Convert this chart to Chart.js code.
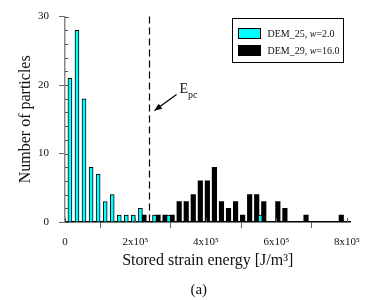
<!DOCTYPE html>
<html>
<head>
<meta charset="utf-8">
<script src="https://cdn.jsdelivr.net/npm/chart.js@4.4.0/dist/chart.umd.min.js"></script>
<style>
  body { margin: 0; background: #fff; }
  #graph { display: block; }
</style>
</head>
<body>
<canvas id="graph" width="368" height="300"></canvas>
<script>
// Centros de cada barra [J/m3] y numero de particulas
const dem25Energia = [14000, 34000, 54000, 74000, 94000, 114000, 134000, 154000, 174000, 194000, 214000, 254000, 294000, 554000];
const dem25Particulas = [21, 28, 18, 8, 7, 3, 4, 1, 1, 1, 2, 1, 1, 1];

const dem29Energia = [224000, 264000, 284000, 304000, 324000, 344000, 364000, 384000, 404000, 424000, 444000, 464000, 484000, 504000, 524000, 544000, 564000, 604000, 624000, 684000, 784000];
const dem29Particulas = [1, 1, 1, 1, 3, 3, 4, 6, 6, 8, 3, 2, 3, 1, 4, 4, 3, 3, 2, 1, 1];

const nombresSeries = ['DEM_25', 'DEM_29'];
const valoresW = ['2.0', '16.0'];
const coloresSeries = ['#00ffff', '#000000'];

const ticksX = [0, 200000, 400000, 600000, 800000];
const etiquetasX = ['0', '2x10\u2075', '4x10\u2075', '6x10\u2075', '8x10\u2075'];
const ticksY = [0, 10, 20, 30];

const energiaEpc = 238000;
const serif = "'Liberation Serif', 'Times New Roman', serif";

const linea = (ctx, x1, y1, x2, y2) => {
    ctx.beginPath();
    ctx.moveTo(x1, y1);
    ctx.lineTo(x2, y2);
    ctx.stroke();
};

// Marcas hacia adentro de los ejes
const marcasEjes = {
    id: 'marcasEjes',
    afterDraw(chart) {
        const {ctx, chartArea, scales: {x, y}} = chart;
        ctx.save();
        ctx.strokeStyle = '#555';
        ctx.lineWidth = 1;
        ticksX.forEach((v) => {
            const px = Math.round(x.getPixelForValue(v)) + 0.5;
            linea(ctx, px, chartArea.bottom, px, chartArea.bottom - 4);
        });
        ticksY.forEach((v) => {
            const py = Math.round(y.getPixelForValue(v)) + 0.5;
            linea(ctx, chartArea.left, py, chartArea.left + 4, py);
        });
        for (let v = 2; v < 30; v += 2) {
            if (v % 10 === 0) continue;
            const py = Math.round(y.getPixelForValue(v)) + 0.5;
            linea(ctx, chartArea.left, py, chartArea.left + 3, py);
        }
        ctx.restore();
    }
};

// Linea de Epc con flecha y texto
const lineaEpc = {
    id: 'lineaEpc',
    afterDatasetsDraw(chart) {
        const {ctx, chartArea, scales: {x}} = chart;
        const px = Math.round(x.getPixelForValue(energiaEpc)) + 0.5;
        ctx.save();
        ctx.strokeStyle = '#000';
        ctx.lineWidth = 1.2;
        ctx.setLineDash([7, 4]);
        linea(ctx, px, chartArea.top, px, chartArea.bottom);
        ctx.setLineDash([]);

        const punta = {x: px + 5, y: chartArea.top + 94};
        const cola = {x: px + 27, y: chartArea.top + 78};
        linea(ctx, cola.x, cola.y, punta.x, punta.y);
        const ang = Math.atan2(punta.y - cola.y, punta.x - cola.x);
        ctx.fillStyle = '#000';
        ctx.beginPath();
        ctx.moveTo(punta.x, punta.y);
        ctx.lineTo(punta.x - 8 * Math.cos(ang - 0.4), punta.y - 8 * Math.sin(ang - 0.4));
        ctx.lineTo(punta.x - 8 * Math.cos(ang + 0.4), punta.y - 8 * Math.sin(ang + 0.4));
        ctx.closePath();
        ctx.fill();

        ctx.fillStyle = '#111';
        ctx.textBaseline = 'alphabetic';
        ctx.font = `14px ${serif}`;
        ctx.fillText('E', px + 30, chartArea.top + 76);
        const anchoE = ctx.measureText('E').width;
        ctx.font = `10px ${serif}`;
        ctx.fillText('pc', px + 30 + anchoE, chartArea.top + 81);
        ctx.restore();
    }
};

// Leyenda en recuadro, arriba a la derecha
const leyendaCaja = {
    id: 'leyendaCaja',
    afterDraw(chart) {
        const {ctx, chartArea} = chart;
        const ancho = 111, alto = 44;
        const x0 = Math.round(chartArea.right - 7 - ancho) + 0.5;
        const y0 = Math.round(chartArea.top + 1) + 0.5;
        ctx.save();
        ctx.fillStyle = '#fff';
        ctx.fillRect(x0, y0, ancho, alto);
        ctx.strokeStyle = '#000';
        ctx.lineWidth = 1;
        ctx.strokeRect(x0, y0, ancho, alto);
        nombresSeries.forEach((nombre, i) => {
            const ys = y0 + 10 + i * 17;
            ctx.fillStyle = coloresSeries[i];
            ctx.fillRect(x0 + 6, ys, 22, 10);
            ctx.strokeRect(x0 + 6, ys, 22, 10);
            let tx = x0 + 35;
            const ty = y0 + 18 + i * 17;
            ctx.fillStyle = '#111';
            ctx.textBaseline = 'alphabetic';
            const partes = [[`${nombre}, `, ''], ['w', 'italic '], [`=${valoresW[i]}`, '']];
            partes.forEach(([texto, estilo]) => {
                ctx.font = `${estilo}10px ${serif}`;
                ctx.fillText(texto, tx, ty);
                tx += ctx.measureText(texto).width;
            });
        });
        ctx.font = `15px ${serif}`;
        ctx.textAlign = 'center';
        ctx.fillText('(a)', (chartArea.left + chartArea.right) / 2 - 9, 294);
        ctx.restore();
    }
};

const data = {
    datasets: [
        {
            label: `${nombresSeries[0]}, w=${valoresW[0]}`,
            data: dem25Energia.map((e, i) => ({x: e, y: dem25Particulas[i]})),
            backgroundColor: coloresSeries[0],
            borderColor: '#000',
            borderWidth: 1,
            barThickness: 4,
            grouped: false,
        },
        {
            label: `${nombresSeries[1]}, w=${valoresW[1]}`,
            data: dem29Energia.map((e, i) => ({x: e, y: dem29Particulas[i]})),
            backgroundColor: coloresSeries[1],
            borderWidth: 0,
            barThickness: 4.5,
            grouped: false,
        }
    ]
};

const config = {
    type: 'bar',
    data: data,
    options: {
        responsive: false,
        animation: false,
        layout: {padding: {top: 7, right: 13, bottom: 0, left: 0}},
        plugins: {legend: {display: false}, tooltip: {enabled: false}},
        scales: {
            x: {
                type: 'linear',
                min: 0,
                max: 810000,
                offset: false,
                afterBuildTicks: (eje) => { eje.ticks = ticksX.map((v) => ({value: v})); },
                afterFit: (eje) => { eje.height = 78; },
                ticks: {
                    callback: (v) => etiquetasX[ticksX.indexOf(v)],
                    color: '#111',
                    font: {family: serif, size: 11},
                    padding: 8,
                    maxRotation: 0,
                    autoSkip: false,
                },
                grid: {drawOnChartArea: false, drawTicks: true, tickLength: 6, color: '#666'},
                border: {color: '#000', width: 1.5},
                title: {
                    display: true,
                    text: 'Stored strain energy [J/m\u00b3]',
                    color: '#111',
                    font: {family: serif, size: 16},
                    padding: {top: 4, bottom: 30},
                },
            },
            y: {
                min: 0,
                max: 30,
                afterBuildTicks: (eje) => { eje.ticks = ticksY.map((v) => ({value: v})); },
                afterFit: (eje) => { eje.width = 65; },
                ticks: {color: '#111', font: {family: serif, size: 11}, padding: 10},
                grid: {drawOnChartArea: false, drawTicks: true, tickLength: 6, color: '#666'},
                border: {color: '#888', width: 1.5},
                title: {
                    display: true,
                    text: 'Number of particles',
                    color: '#111',
                    font: {family: serif, size: 16},
                    padding: {top: 16, bottom: 0},
                },
            },
        },
    },
    plugins: [marcasEjes, lineaEpc, leyendaCaja],
};

new Chart(document.getElementById('graph'), config);
</script>
</body>
</html>
